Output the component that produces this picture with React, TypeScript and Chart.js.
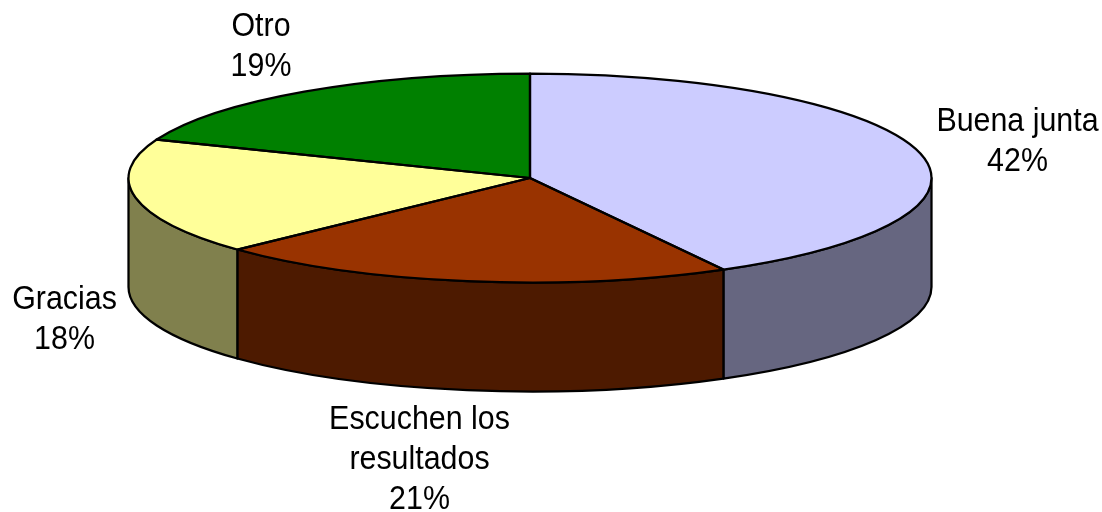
import React, { useEffect, useRef } from "react";
import { Chart, registerables } from "chart.js";

Chart.register(...registerables);

const categories = ["Buena junta", "Escuchen los resultados", "Gracias", "Otro"];
const labelLines = [["Buena junta"], ["Escuchen los", "resultados"], ["Gracias"], ["Otro"]];
const values = [42, 21, 18, 19];
const topColors = ["#CCCCFF", "#993300", "#FFFF99", "#008000"];
const sideColors = ["#666680", "#4D1A00", "#80804D", "#004000"];

const W = 1102;
const H = 512;
const CX = 530;
const CY = 178;
const RX = 401.5;
const RY = 104.5;
const DEPTH = 109;
const LINE_H = 40;
const STROKE = 2.25;
const labelAnchors = [
  { x: 1017.5, y: 131 },
  { x: 419.5, y: 429 },
  { x: 64.5, y: 308.5 },
  { x: 261, y: 35.5 },
];

const pie3d = {
  id: "pie3d",
  beforeDatasetsDraw(chart: any) {
    const { ctx } = chart;
    const arcs = chart.getDatasetMeta(0).data;
    ctx.save();
    ctx.lineWidth = STROKE;
    ctx.lineJoin = "round";
    ctx.strokeStyle = "#000";
    arcs.forEach((arc: any, i: number) => {
      const a0 = Math.max(arc.startAngle, 0);
      const a1 = Math.min(arc.endAngle, Math.PI);
      if (a1 <= a0) return;
      ctx.beginPath();
      ctx.ellipse(CX, CY, RX, RY, 0, a0, a1);
      ctx.ellipse(CX, CY + DEPTH, RX, RY, 0, a1, a0, true);
      ctx.closePath();
      ctx.fillStyle = sideColors[i];
      ctx.fill();
      ctx.stroke();
    });
    ctx.restore();
    const first = arcs[0];
    ctx.save();
    ctx.translate(CX, CY);
    ctx.scale(RX / first.outerRadius, RY / first.outerRadius);
    ctx.translate(-first.x, -first.y);
  },
  afterDatasetsDraw(chart: any) {
    const { ctx } = chart;
    ctx.restore();
    const arcs = chart.getDatasetMeta(0).data;
    ctx.save();
    ctx.lineWidth = STROKE;
    ctx.lineJoin = "round";
    ctx.strokeStyle = "#000";
    arcs.forEach((arc: any) => {
      ctx.beginPath();
      ctx.moveTo(CX, CY);
      ctx.ellipse(CX, CY, RX, RY, 0, arc.startAngle, arc.endAngle);
      ctx.closePath();
      ctx.stroke();
    });
    ctx.fillStyle = "#000";
    ctx.font = '30.4px "Liberation Sans"';
    ctx.textAlign = "center";
    ctx.textBaseline = "alphabetic";
    labelLines.forEach((lines, i) => {
      const all = [...lines, `${values[i]}%`];
      all.forEach((t, j) => {
        ctx.save();
        ctx.translate(labelAnchors[i].x, labelAnchors[i].y + j * LINE_H);
        ctx.scale(1, 1.08);
        ctx.fillText(t, 0, 0);
        ctx.restore();
      });
    });
    ctx.restore();
  },
};

export default function App() {
  const ref = useRef<HTMLCanvasElement>(null);
  useEffect(() => {
    const chart = new Chart(ref.current!, {
      type: "pie",
      data: {
        labels: categories,
        datasets: [
          {
            data: values,
            backgroundColor: topColors,
            borderWidth: 0,
            radius: RX,
            clip: false,
          } as any,
        ],
      },
      options: {
        animation: false,
        responsive: false,
        layout: { padding: 0 },
        plugins: { legend: { display: false }, tooltip: { enabled: false } },
      },
      plugins: [pie3d],
    });
    return () => chart.destroy();
  }, []);
  return (
    <canvas
      ref={ref}
      width={W}
      height={H}
      style={{ position: "absolute", left: 0, top: 0, display: "block" }}
    />
  );
}
